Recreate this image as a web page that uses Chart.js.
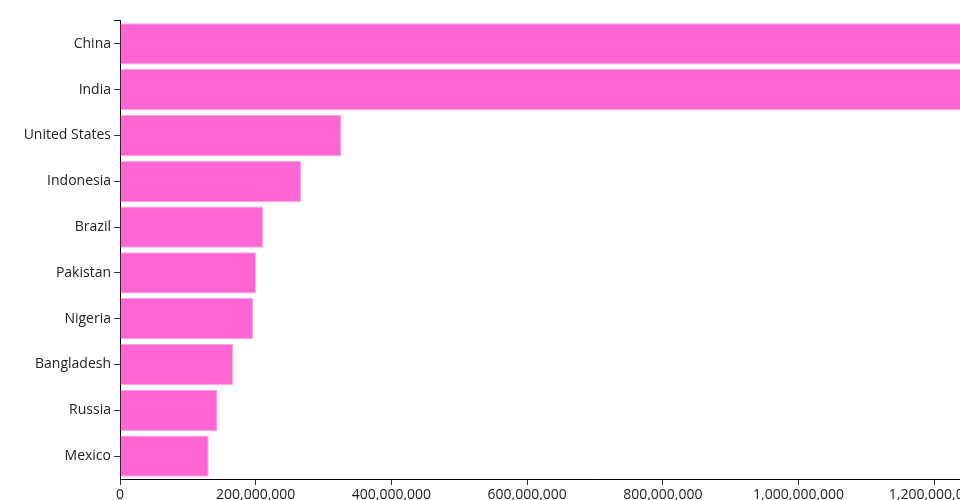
<!DOCTYPE html>
<html>
<head>
<meta charset="utf-8">
<script src="https://cdn.jsdelivr.net/npm/chart.js@4"></script>
<style>
  html, body { margin: 0; padding: 0; overflow: hidden; background: #fff; }
  #wrap { position: absolute; left: 0; top: 0; width: 1120px; height: 500px; }
</style>
</head>
<body>
<div id="wrap"><canvas id="myChart"></canvas></div>
<script>
const countries = ['China', 'India', 'United States', 'Indonesia', 'Brazil', 'Pakistan', 'Nigeria', 'Bangladesh', 'Russia', 'Mexico'];
const population = [1393000000, 1353000000, 326500000, 266700000, 210700000, 200700000, 196000000, 166500000, 143800000, 130700000];
const xMax = 1400000000;
const xStep = 200000000;

const ctx = document.getElementById('myChart');

// d3-style outer ticks at the ends of the y axis
const outerTicks = {
  id: 'outerTicks',
  afterDraw(chart) {
    const a = chart.chartArea;
    const c = chart.ctx;
    c.save();
    c.strokeStyle = '#000';
    c.lineWidth = 1;
    c.beginPath();
    c.moveTo(a.left - 6, a.top - 0.5);
    c.lineTo(a.left + 0.5, a.top - 0.5);
    c.lineTo(a.left + 0.5, a.top + 3);
    c.stroke();
    c.restore();
  }
};

new Chart(ctx, {
  type: 'bar',
  data: {
    labels: countries,
    datasets: [{
      data: population,
      backgroundColor: '#ff66d3',
      borderColor: '#ffa3e6',
      borderWidth: 1,
      barPercentage: 0.9,
      categoryPercentage: 1
    }]
  },
  options: {
    indexAxis: 'y',
    responsive: true,
    maintainAspectRatio: false,
    animation: false,
    layout: { padding: { top: 21, right: 50, left: 0, bottom: 0 } },
    scales: {
      y: {
        grid: { drawOnChartArea: false, offset: false, tickLength: 6, color: '#333' },
        border: { display: true, color: '#000', width: 1 },
        ticks: { color: '#222', padding: 3, font: { family: 'Open Sans', size: 14 } },
        afterFit(scale) { scale.width = 120; scale.paddingTop = 0; scale.paddingBottom = 0; }
      },
      x: {
        min: 0,
        max: xMax,
        grid: { drawOnChartArea: false, tickLength: 6, color: '#333' },
        border: { display: true, color: '#000', width: 1 },
        ticks: {
          stepSize: xStep,
          color: '#222',
          padding: 2,
          maxRotation: 0,
          font: { family: 'Open Sans', size: 14 },
          callback: v => v.toLocaleString('en-US')
        },
        afterFit(scale) { scale.height = 21; scale.paddingLeft = 0; scale.paddingRight = 0; }
      }
    },
    plugins: {
      legend: { display: false },
      tooltip: { enabled: false }
    }
  },
  plugins: [outerTicks]
});
</script>
</body>
</html>
